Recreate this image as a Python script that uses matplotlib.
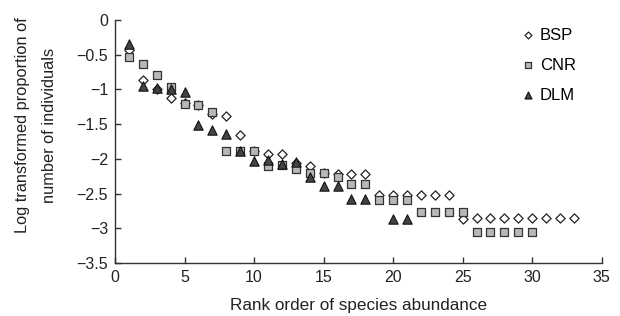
import numpy as np
import matplotlib
matplotlib.use("Agg")
import matplotlib.pyplot as plt

plt.rcParams['font.family'] = ['Liberation Sans', 'DejaVu Sans']

# rank abundance data (log proportion of individuals)
bsp_rank = list(range(1, 34))
bsp_vals = [-0.43, -0.86, -1.0, -1.13, -1.2, -1.23, -1.35, -1.38, -1.66, -1.88,
            -1.93, -1.93, -2.06, -2.1, -2.2, -2.22, -2.22, -2.22, -2.52, -2.52,
            -2.52, -2.52, -2.52, -2.52, -2.86, -2.85, -2.85, -2.85, -2.85, -2.85,
            -2.85, -2.85, -2.85]

cnr_rank = list(range(1, 31))
cnr_vals = [-0.54, -0.63, -0.79, -0.97, -1.21, -1.23, -1.33, -1.88, -1.89, -1.89,
            -2.1, -2.09, -2.15, -2.21, -2.21, -2.26, -2.36, -2.36, -2.59, -2.59,
            -2.59, -2.77, -2.77, -2.77, -2.77, -3.06, -3.06, -3.06, -3.06, -3.06]

dlm_rank = [1, 2, 3, 4, 5, 6, 7, 8, 9, 10, 11, 12, 13, 14, 15, 16, 17, 18, 20, 21]
dlm_vals = [-0.34, -0.95, -0.98, -1.0, -1.03, -1.51, -1.58, -1.64, -1.88, -2.03,
            -2.01, -2.08, -2.04, -2.26, -2.39, -2.39, -2.58, -2.58, -2.87, -2.87]

fig = plt.figure(figsize=(6.2, 3.16), dpi=100)
ax = fig.add_axes([0.1855, 0.1677, 0.785, 0.769])

ax.scatter(bsp_rank, bsp_vals, marker='D', s=22, facecolor='white',
           edgecolor='#222222', linewidth=0.9, label='BSP', zorder=3)
ax.scatter(cnr_rank, cnr_vals, marker='s', s=32, facecolor='#b8b8b8',
           edgecolor='#333333', linewidth=0.9, label='CNR', zorder=4)
ax.scatter(dlm_rank, dlm_vals, marker='^', s=45, facecolor='#444444',
           edgecolor='#111111', linewidth=0.8, label='DLM', zorder=5)

ax.set_xlim(0, 35)
ax.set_ylim(-3.5, 0)
ax.set_xticks(np.arange(0, 36, 5))
ax.set_yticks(np.arange(-3.5, 0.01, 0.5))
ax.set_yticklabels(['−3.5', '−3', '−2.5', '−2', '−1.5', '−1', '−0.5', '0'])

for s in ['top', 'right']:
    ax.spines[s].set_visible(False)
for s in ['left', 'bottom']:
    ax.spines[s].set_color('#333333')
    ax.spines[s].set_linewidth(1.0)

ax.tick_params(direction='in', length=4, width=1, colors='#333333',
               labelsize=11.5, labelcolor='#222222', pad=5)

ax.set_xlabel('Rank order of species abundance', fontsize=12.3,
              color='#222222')
ax.xaxis.set_label_coords(0.5, -0.173)
ax.xaxis.label.set_va('center')

fig.text(36 / 620, 1 - 125 / 316,
         'Log transformed proportion of\nnumber of individuals',
         rotation=90, ha='center', va='center', fontsize=11.8,
         color='#222222', linespacing=1.95, multialignment='center')

leg = ax.legend(loc='upper left', bbox_to_anchor=(0.822, 0.996), frameon=False,
                fontsize=12, handletextpad=0.3, labelspacing=0.9,
                handlelength=0.8, borderaxespad=0, markerscale=0.75)

fig.savefig('out.png', dpi=100)
